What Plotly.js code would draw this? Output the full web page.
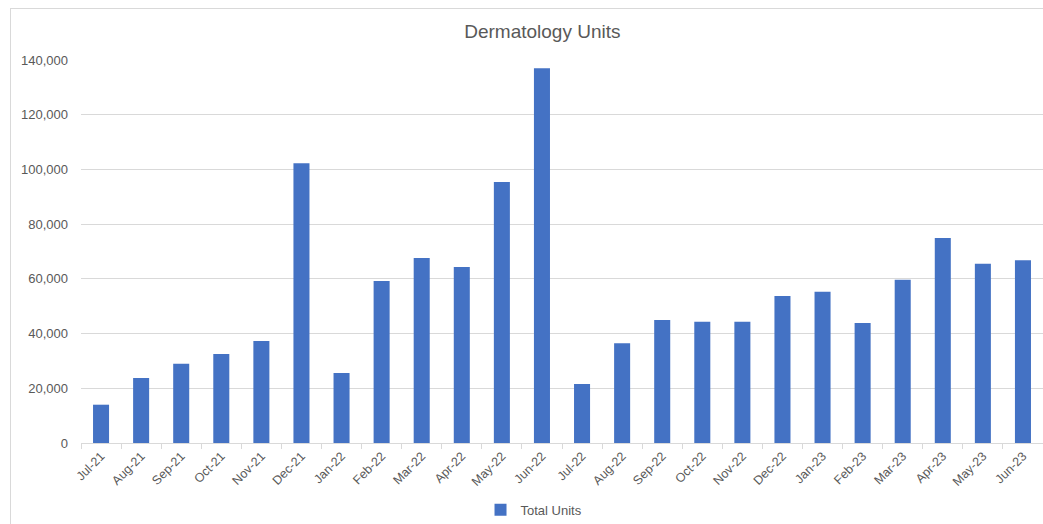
<!DOCTYPE html>
<html><head><meta charset="utf-8">
<script src="https://cdn.plot.ly/plotly-3.0.1.min.js"></script>
<style>
html,body{margin:0;padding:0;background:#fff;}
#chart{width:1043px;height:524px;}
#frame{position:absolute;left:10px;top:8px;width:1040px;height:530px;border:1px solid #d9d9d9;pointer-events:none;}
</style></head>
<body>
<div id="chart"></div>
<div id="frame"></div>
<script>
const months = ["Jul-21","Aug-21","Sep-21","Oct-21","Nov-21","Dec-21","Jan-22","Feb-22","Mar-22","Apr-22","May-22","Jun-22","Jul-22","Aug-22","Sep-22","Oct-22","Nov-22","Dec-22","Jan-23","Feb-23","Mar-23","Apr-23","May-23","Jun-23"];
const totalUnits = [14000,23800,29000,32500,37300,102300,25600,59200,67600,64300,95400,137000,21600,36500,45000,44300,44300,53700,55300,43900,59700,74900,65500,66800];
const tickVals = [0,20000,40000,60000,80000,100000,120000,140000];

const trace = {
  type: "bar", x: months, y: totalUnits, name: "Total Units",
  marker: {color: "#4472C4"}
};
const layout = {
  width: 1043, height: 524,
  margin: {l: 81, r: 0, t: 60, b: 81},
  paper_bgcolor: "#fff", plot_bgcolor: "#fff",
  font: {family: "Liberation Sans, Arial, sans-serif", color: "#595959", size: 13},
  title: {text: "Dermatology Units", x: 0.52, xanchor: "center", y: 0.94, yanchor: "middle",
          font: {size: 19, color: "#595959"}},
  bargap: 0.6,
  showlegend: true,
  legend: {orientation: "h", xref: "container", yref: "container", x: 0.512, xanchor: "center",
           y: 0.027, yanchor: "middle", font: {size: 13, color: "#595959"}},
  xaxis: {type: "category", tickangle: -45, showgrid: false, showline: true, linecolor: "#d9d9d9",
          ticks: "outside", tickson: "boundaries", ticklen: 5, tickcolor: "#d9d9d9", automargin: false,
          tickfont: {size: 12.5, color: "#595959"}, zeroline: false},
  yaxis: {range: [0, 140000], tickvals: tickVals, tickformat: ",d", showgrid: true, gridcolor: "#d9d9d9",
          zeroline: false, showline: false, ticks: "", ticklabelstandoff: 12, automargin: false,
          tickfont: {size: 13, color: "#595959"}}
};
Plotly.newPlot("chart", [trace], layout, {displayModeBar: false, staticPlot: true});
</script>
</body></html>
